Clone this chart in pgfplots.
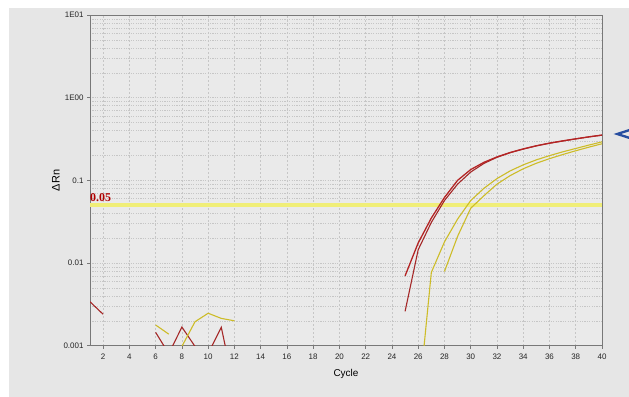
\documentclass[border=0pt]{standalone}
\usepackage{fontspec}
\setmainfont{Liberation Sans}
\newfontfamily\serifb{Liberation Serif}
\usepackage{pgfplots}
\pgfplotsset{compat=1.18}
\definecolor{bgout}{RGB}{230,230,230}
\definecolor{bgin}{RGB}{234,234,234}
\definecolor{gridc}{RGB}{198,198,198}
\definecolor{axc}{RGB}{120,120,120}
\definecolor{redA}{RGB}{180,36,36}
\definecolor{redB}{RGB}{165,40,40}
\definecolor{yelC}{RGB}{205,188,40}
\definecolor{thr}{RGB}{240,238,120}
\definecolor{lblred}{RGB}{175,0,0}
\definecolor{arrowblue}{RGB}{40,78,160}
\begin{document}
\begin{tikzpicture}
\useasboundingbox (0,0) rectangle (629bp,397bp);
\fill[white] (0,0) rectangle (629bp,397bp);
\fill[bgout] (9bp,0) rectangle (629bp,389bp);
\begin{axis}[
  at={(90bp,51.3bp)}, anchor=south west,
  scale only axis, width=512bp, height=330.7bp,
  ymode=log, xmin=1, xmax=40, ymin=0.001, ymax=10,
  xtick={2,4,...,40},
  ytick={0.001,0.01,0.1,1,10},
  yticklabels={0.001,0.01,0.1,1E00,1E01},
  /pgf/number format/assume math mode=true,
  minor x tick num=0,
  tick pos=left, tick align=outside,
  major tick length=3bp, minor tick length=0pt,
  tick style={axc, line width=0.5bp},
  axis line style={axc, line width=0.8bp},
  axis background/.style={fill=bgin},
  xmajorgrids, ymajorgrids, yminorgrids,
  x grid style={gridc, dash pattern=on 2bp off 2bp, line width=0.5bp},
  y grid style={gridc, dash pattern=on 1.2bp off 1.2bp, line width=0.5bp},
  ticklabel style={font=\fontsize{8}{9}\selectfont, color=black!85},
  xticklabel style={yshift=-2bp},
  xlabel={Cycle}, ylabel={ΔRn},
  xlabel style={font=\fontsize{10}{11}\selectfont, yshift=-3bp},
  ylabel style={font=\fontsize{11}{12}\selectfont, yshift=-3bp},
  clip=true,
]
% threshold
\addplot[thr, line width=3.5bp] coordinates {(1,0.05) (40,0.05)};
% early noise
\addplot[redB, line width=1.1bp] coordinates {(1,0.0034) (2,0.0024)};
\addplot[redB, line width=1.1bp] coordinates {(6,0.00145) (7,0.0008) (8,0.00168) (9,0.00098) (10,0.0008) (11,0.00167) (12,0.0003)};
\addplot[yelC, line width=1.1bp] coordinates {(6,0.00178) (7,0.00138)};
\addplot[yelC, line width=1.1bp] coordinates {(8,0.00098) (9,0.00195) (10,0.00247) (11,0.00214) (12,0.0020)};
% amplification curves
\addplot[yelC, line width=1.1bp] coordinates {(26,0.00019) (27,0.0077) (28,0.018) (29,0.034) (30,0.057) (31,0.080) (32,0.105) (33,0.130) (34,0.154) (35,0.177) (36,0.199) (37,0.221) (38,0.243) (39,0.267) (40,0.292)};
\addplot[yelC, line width=1.1bp] coordinates {(28,0.0079) (29,0.021) (30,0.046) (31,0.065) (32,0.090) (33,0.114) (34,0.138) (35,0.161) (36,0.183) (37,0.205) (38,0.228) (39,0.252) (40,0.277)};
\addplot[redB, line width=1.1bp] coordinates {(25,0.0026) (26,0.0145) (27,0.031) (28,0.057) (29,0.090) (30,0.126) (31,0.160) (32,0.190) (33,0.216) (34,0.239) (35,0.261) (36,0.281) (37,0.299) (38,0.317) (39,0.335) (40,0.352)};
\addplot[redA, line width=1.3bp] coordinates {(25,0.0070) (26,0.0175) (27,0.035) (28,0.062) (29,0.100) (30,0.135) (31,0.165) (32,0.192) (33,0.217) (34,0.240) (35,0.262) (36,0.282) (37,0.300) (38,0.318) (39,0.336) (40,0.353)};
\node[anchor=south west, inner sep=0pt, yshift=3bp, text=lblred, font=\serifb\bfseries\fontsize{12}{13}\selectfont] at (axis cs:1,0.05) {0.05};
\end{axis}
\fill[arrowblue] (613.5bp,263bp) -- (629bp,268bp) -- (629bp,265.5bp) -- (621bp,263bp) -- (629bp,260.5bp) -- (629bp,258bp) -- cycle;
\end{tikzpicture}
\end{document}
